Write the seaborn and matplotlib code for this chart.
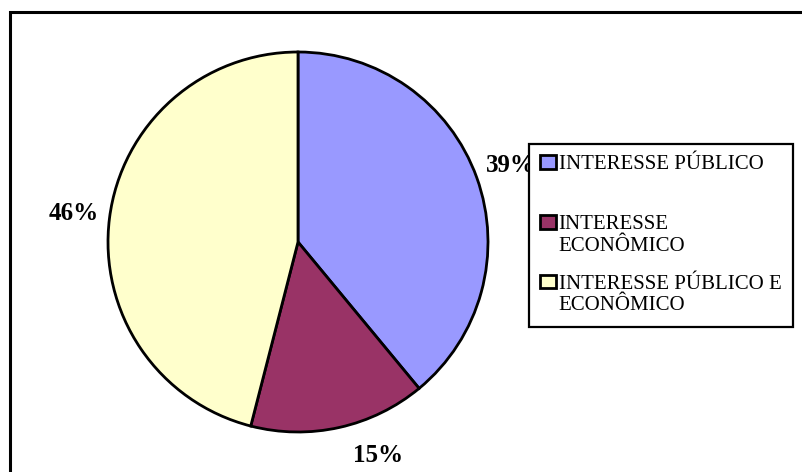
import matplotlib
matplotlib.use("Agg")
import matplotlib.pyplot as plt
from matplotlib.patches import Rectangle
import seaborn as sns

# Share of each kind of interest
categorias = ["INTERESSE PÚBLICO", "INTERESSE\nECONÔMICO", "INTERESSE PÚBLICO E\nECONÔMICO"]
valores = [39, 15, 46]
cores = ["#9999FF", "#993366", "#FFFFCC"]

sns.set_style("white")
plt.rcParams["font.family"] = ["Liberation Serif", "DejaVu Serif"]
plt.rcParams["text.color"] = "black"

W, H = 803, 472
fig = plt.figure(figsize=(W / 100, H / 100), dpi=100)

# outer chart frame (runs past the right and bottom edges)
fig.patches.append(Rectangle((10 / W, -0.1), 1.2, 1.1 - 12 / H,
                             transform=fig.transFigure, fill=False,
                             edgecolor="black", linewidth=2.2, zorder=0))

ax = fig.add_axes([98 / W, 30 / H, 400 / W, 400 / H])
wedges, _, autotexts = ax.pie(
    valores, colors=cores, startangle=90, counterclock=False,
    autopct="%1.0f%%", pctdistance=1.19,
    wedgeprops=dict(edgecolor="black", linewidth=2),
    textprops=dict(fontsize=18, fontweight="bold", color="black"),
)
lim = 400 / 380
ax.set_xlim(-lim, lim)
ax.set_ylim(-lim, lim)
ax.set_aspect("equal")

# the small slice's label sits a little further round
autotexts[1].set_position((0.42, -1.126))

# every legend entry takes two text lines, so the rows sit on an even pitch
rotulos = [c if "\n" in c else c + "\n " for c in categorias]

leg = fig.legend(
    wedges, rotulos, loc="upper left",
    bbox_to_anchor=(529 / W, 1 - 144 / H), bbox_transform=fig.transFigure,
    prop=dict(family="Liberation Serif", size=15),
    frameon=True, fancybox=False, framealpha=1, edgecolor="black",
    borderaxespad=0, borderpad=0.55, handlelength=0.75, handleheight=0.62,
    handletextpad=0.12, labelspacing=0.9,
)
leg.get_frame().set_linewidth(1.6)
for t in leg.get_texts():
    t.set_color("black")
# keep each swatch level with the first line of its label
for col in leg._legend_handle_box.get_children():
    for item in col.get_children():
        item.align = "top"

fig.savefig("out.png", dpi=100)
